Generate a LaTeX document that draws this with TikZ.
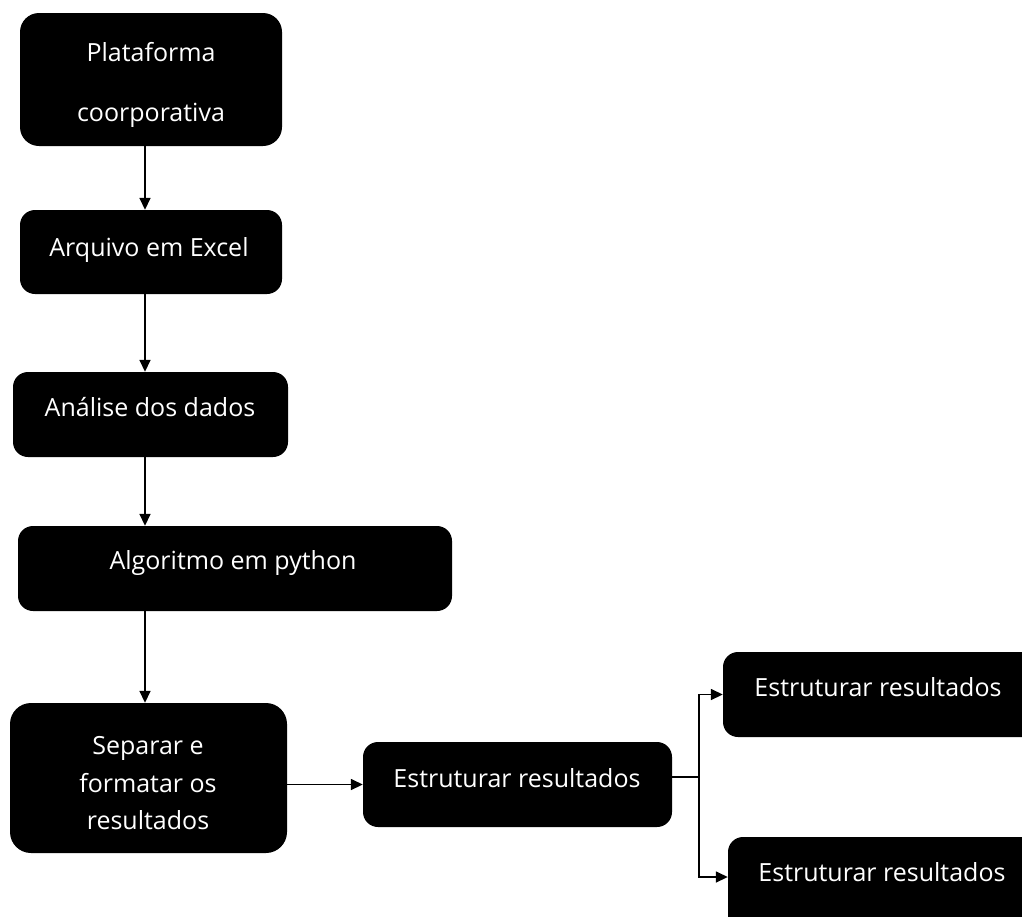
\documentclass[tikz,border=0pt]{standalone}
\usepackage{fontspec}
\setmainfont{Open Sans}
\usetikzlibrary{arrows.meta}
\begin{document}
\begin{tikzpicture}[x=1pt,y=-1pt,
  box/.style={fill=black, rounded corners=15pt, inner sep=0pt, draw=none},
  txt/.style={text=white, font=\fontsize{25}{30}\selectfont, inner sep=0pt, anchor=base},
  arr/.style={draw=black, line width=1.6pt, -{Triangle[length=12pt,width=11pt]}},
  ln/.style={draw=black, line width=1.6pt}]
\useasboundingbox (0,0) rectangle (1022,916);
\node[box, rounded corners=19pt, minimum width=262pt, minimum height=133pt] (b1) at (151,79.5) {};
\node[box, minimum width=262pt, minimum height=84pt] (b2) at (151,252) {};
\node[box, minimum width=275pt, minimum height=85pt] (b3) at (150.5,414.5) {};
\node[box, minimum width=434pt, minimum height=85pt] (b4) at (235,568.5) {};
\node[box, rounded corners=21pt, minimum width=277pt, minimum height=150pt] (b5) at (148.5,778) {};
\node[box, minimum width=309pt, minimum height=85pt] (b6) at (517.5,784.5) {};
\node[box, minimum width=322pt, minimum height=85pt] (b7) at (884,694.5) {};
\node[box, minimum width=317pt, minimum height=103pt] (b8) at (886.5,888.5) {};
\node[txt] (t1a) at (151,61) {Plataforma};
\node[txt] (t1b) at (151,121) {coorporativa};
\node[txt] (t2) at (149,256) {Arquivo em Excel};
\node[txt] (t3) at (150,416) {Análise dos dados};
\node[txt] (t4) at (233,569) {Algoritmo em python};
\node[txt] (t5a) at (148,754) {Separar e};
\node[txt] (t5b) at (148,792) {formatar os};
\node[txt] (t5c) at (148,829) {resultados};
\node[txt] (t6) at (517,787) {Estruturar resultados};
\node[txt] (t7) at (878,696) {Estruturar resultados};
\node[txt] (t8) at (882,881) {Estruturar resultados};
\coordinate (axis) at (145,0);
\coordinate (j) at (699,777);
\coordinate (y8) at (0,877);
\draw[arr] (b1.south -| axis) -- (b2.north -| axis);
\draw[arr] (b2.south -| axis) -- (b3.north -| axis);
\draw[arr] (b3.south -| axis) -- (b4.north -| axis);
\draw[arr] (b4.south -| axis) -- (b5.north -| axis);
\draw[arr] (b5.east |- b6.west) -- (b6.west);
\draw[ln] (b6.east |- j) -- (j);
\draw[arr] (j) |- (b7.west);
\draw[arr] (j) |- (b8.west |- y8);
\end{tikzpicture}
\end{document}
